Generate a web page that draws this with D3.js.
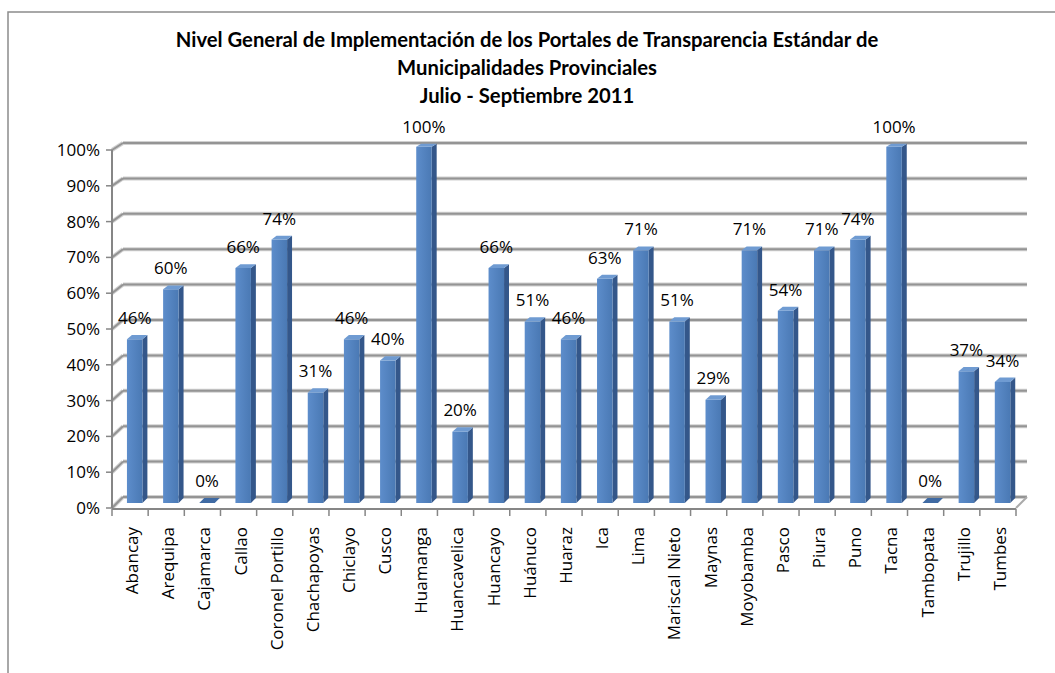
<!DOCTYPE html>
<html>
<head>
<meta charset="utf-8">
<script src="https://cdn.jsdelivr.net/npm/d3@7"></script>
<style>
  body { margin: 0; background: #fff; }
  svg { display: block; }
</style>
</head>
<body>
<script>
const categories = ["Abancay", "Arequipa", "Cajamarca", "Callao", "Coronel Portillo", "Chachapoyas",
  "Chiclayo", "Cusco", "Huamanga", "Huancavelica", "Huancayo", "Huánuco", "Huaraz", "Ica", "Lima",
  "Mariscal Nieto", "Maynas", "Moyobamba", "Pasco", "Piura", "Puno", "Tacna", "Tambopata", "Trujillo", "Tumbes"];
const values = [46, 60, 0, 66, 74, 31, 46, 40, 100, 20, 66, 51, 46, 63, 71, 51, 29, 71, 54, 71, 74, 100, 0, 37, 34];
const yTicks = [0, 10, 20, 30, 40, 50, 60, 70, 80, 90, 100];
const titleLines = [
  "Nivel General de Implementación de los Portales de Transparencia Estándar de",
  "Municipalidades Provinciales",
  "Julio - Septiembre 2011"
];

const W = 1055, H = 673;
const svg = d3.select("body").append("svg")
    .attr("width", W)
    .attr("height", H);

// chart border
svg.append("rect")
    .attr("x", 8).attr("y", 12)
    .attr("width", 1060).attr("height", 700)
    .attr("fill", "#fff")
    .attr("stroke", "#8c8c8c")
    .attr("stroke-width", 1.5);

// 3d box: front plane and back plane
const depthX = 11;
const x = d3.scaleBand().domain(categories).range([112, 1016]).padding(0);
const yFront = d3.scaleLinear().domain([0, 100]).range([508, 150]);
const yBack = d3.scaleLinear().domain([0, 100]).range([497, 143]);
const proj = (xf, v, t) => [xf + depthX * t, yFront(v) * (1 - t) + yBack(v) * t];

// gradient for bar front
const defs = svg.append("defs");
const grad = defs.append("linearGradient").attr("id", "front").attr("x1", 0).attr("x2", 1).attr("y1", 0).attr("y2", 0);
grad.append("stop").attr("offset", 0).attr("stop-color", "#5d8dcb");
grad.append("stop").attr("offset", 1).attr("stop-color", "#4a79b4");

// gridlines (back wall + left wall)
const grid = svg.append("g");
yTicks.forEach(v => {
  const [bx0, by] = proj(x.range()[0], v, 1);
  const bx1 = x.range()[1] + depthX;
  [["#d0d0d0", 4], ["#949494", 2]].forEach(([c, w]) => {
    grid.append("line")
        .attr("x1", bx0).attr("y1", by).attr("x2", bx1).attr("y2", by)
        .attr("stroke", c).attr("stroke-width", w);
    grid.append("line")
        .attr("x1", x.range()[0]).attr("y1", yFront(v)).attr("x2", bx0).attr("y2", by)
        .attr("stroke", c).attr("stroke-width", w);
  });
});
// floor right edge
grid.append("line")
    .attr("x1", x.range()[1]).attr("y1", yFront(0))
    .attr("x2", x.range()[1] + depthX).attr("y2", yBack(0))
    .attr("stroke", "#aaa").attr("stroke-width", 2);

// bars
const t0 = 0.45, t1 = 0.9, barOff = 10, barW = 15.5;
const bars = svg.append("g");
categories.forEach((c, i) => {
  const v = values[i];
  const xf0 = x(c) + barOff, xf1 = xf0 + barW;
  const a = proj(xf0, v, t0), b = proj(xf1, v, t0);
  const a0 = proj(xf0, 0, t0), b0 = proj(xf1, 0, t0);
  const bt = proj(xf1, v, t1), bt0 = proj(xf1, 0, t1), at = proj(xf0, v, t1);
  // side
  bars.append("path")
      .attr("d", d3.line()([b, bt, bt0, b0]) + "Z")
      .attr("fill", "#34578a");
  // front
  if (v > 0) {
    bars.append("path")
        .attr("d", d3.line()([a, b, b0, a0]) + "Z")
        .attr("fill", "url(#front)");
  }
  // top
  bars.append("path")
      .attr("d", d3.line()([a, b, bt, at]) + "Z")
      .attr("fill", v > 0 ? "#6f9bd2" : "#3f6aa3");
});

// y axis
const axisG = svg.append("g");
axisG.append("line")
    .attr("x1", 112).attr("x2", 112)
    .attr("y1", yFront(100)).attr("y2", yFront(0))
    .attr("stroke", "#868686").attr("stroke-width", 2);
yTicks.forEach(v => {
  axisG.append("line")
      .attr("x1", 106).attr("x2", 112)
      .attr("y1", yFront(v)).attr("y2", yFront(v))
      .attr("stroke", "#868686").attr("stroke-width", 1.5);
  axisG.append("text")
      .attr("x", 100).attr("y", yFront(v))
      .attr("dy", "0.35em")
      .attr("text-anchor", "end")
      .attr("font-family", "Open Sans")
      .attr("font-size", 17)
      .attr("fill", "#000")
      .text(v + "%");
});

// x axis
axisG.append("line")
    .attr("x1", x.range()[0]).attr("x2", x.range()[1])
    .attr("y1", yFront(0) + 1).attr("y2", yFront(0) + 1)
    .attr("stroke", "#868686").attr("stroke-width", 2);
categories.concat([null]).forEach(c => {
  const xx = c ? x(c) : x.range()[1];
  axisG.append("line")
      .attr("x1", xx).attr("x2", xx)
      .attr("y1", yFront(0) + 1).attr("y2", yFront(0) + 8)
      .attr("stroke", "#868686").attr("stroke-width", 1.5);
});
categories.forEach(c => {
  axisG.append("text")
      .attr("transform", `translate(${x(c) + x.bandwidth() / 2 + 2},${yFront(0) + 19}) rotate(-90)`)
      .attr("dy", "0.35em")
      .attr("text-anchor", "end")
      .attr("font-family", "Open Sans")
      .attr("font-size", 17)
      .attr("fill", "#000")
      .text(c);
});

// value labels
svg.append("g").selectAll("text")
  .data(categories)
  .join("text")
    .attr("x", (c, i) => proj(x(c) + barOff + barW / 2, values[i], t0)[0])
    .attr("y", (c, i) => proj(0, values[i], t1)[1] - 11)
    .attr("text-anchor", "middle")
    .attr("font-family", "Open Sans")
    .attr("font-size", 17)
    .attr("fill", "#000")
    .text((c, i) => values[i] + "%");

// title
const title = svg.append("g");
titleLines.forEach((line, i) => {
  title.append("text")
      .attr("x", 527).attr("y", 47 + i * 28)
      .attr("text-anchor", "middle")
      .attr("font-family", "Lato")
      .attr("font-weight", "bold")
      .attr("font-size", 20)
      .attr("fill", "#000")
      .text(line);
});
// fit first line to the reference width
const first = title.select("text").node();
const scale = 703 / first.getComputedTextLength();
title.selectAll("text").attr("font-size", 20 * scale);
</script>
</body>
</html>
